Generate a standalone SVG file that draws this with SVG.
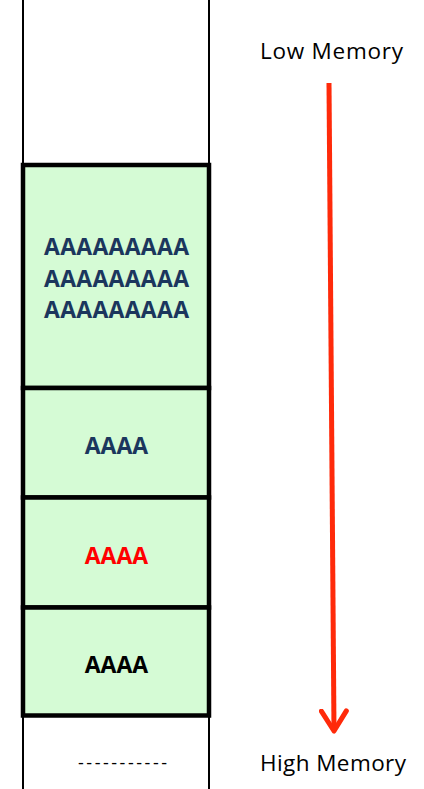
<svg xmlns="http://www.w3.org/2000/svg" width="424" height="789" viewBox="0 0 424 789">
<style>
.cell{fill:#d5fbd5;stroke:#000;stroke-width:4.5}
.t{font-family:"Open Sans","Liberation Sans",sans-serif;font-weight:bold;font-size:23px;text-anchor:middle}
.lbl{font-family:"Open Sans","Liberation Sans",sans-serif;font-size:22.5px;fill:#000;text-anchor:middle}
</style>
<defs>
<marker id="ah" markerWidth="6" markerHeight="6" refX="4.5" refY="3" orient="auto" markerUnits="strokeWidth">
<path d="M0.5,0.5 L4.5,3 L0.5,5.5" fill="none" stroke="#ff2a0a" stroke-width="1" stroke-linecap="round" stroke-linejoin="round"/>
</marker>
</defs>
<rect width="424" height="789" fill="#fff"/>
<g id="frame">
<line x1="23" y1="0" x2="23" y2="789" stroke="#000" stroke-width="2"/>
<line x1="209" y1="0" x2="209" y2="789" stroke="#000" stroke-width="2"/>
</g>
<g id="cell1"><rect class="cell" x="23" y="165" width="186" height="223"/>
<text class="t" fill="#1b365d" x="116.5" y="255" textLength="145">AAAAAAAAA</text>
<text class="t" fill="#1b365d" x="116.5" y="287" textLength="145">AAAAAAAAA</text>
<text class="t" fill="#1b365d" x="116.5" y="318" textLength="145">AAAAAAAAA</text></g>
<g id="cell2"><rect class="cell" x="23" y="388" width="186" height="109.5"/>
<text class="t" fill="#1b365d" x="116.5" y="454">AAAA</text></g>
<g id="cell3"><rect class="cell" x="23" y="497.5" width="186" height="110"/>
<text class="t" fill="#ff0000" x="116.5" y="564">AAAA</text></g>
<g id="cell4"><rect class="cell" x="23" y="607.5" width="186" height="108"/>
<text class="t" fill="#000" x="116.5" y="673">AAAA</text></g>
<g id="dashes"><text x="122.5" y="769" textLength="89" style="font-family:'Open Sans','Liberation Sans',sans-serif;font-size:18px;text-anchor:middle">-----------</text></g>
<g id="low"><text class="lbl" x="331.5" y="59" textLength="143">Low Memory</text></g>
<g id="high"><text class="lbl" x="333" y="771" textLength="146">High Memory</text></g>
<g id="connectors">
<line x1="329" y1="83" x2="334" y2="731" stroke="#ff2a0a" stroke-width="5" marker-end="url(#ah)"/>
</g>
</svg>
